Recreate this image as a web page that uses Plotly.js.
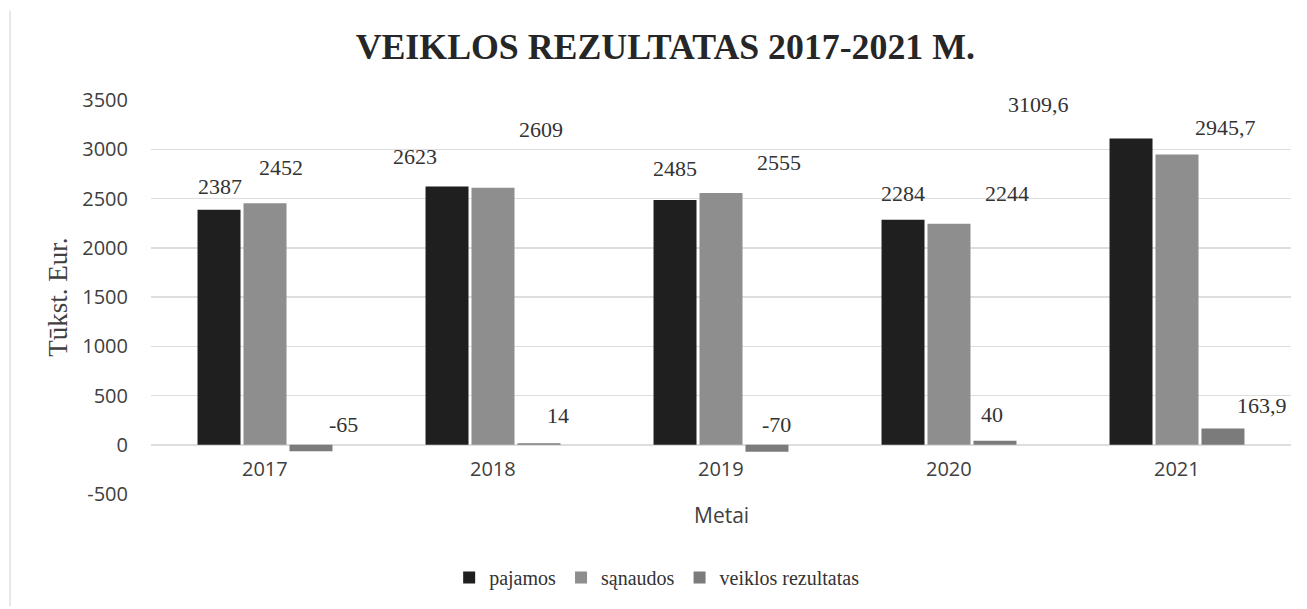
<!DOCTYPE html>
<html>
<head>
<meta charset="utf-8">
<script src="https://cdn.plot.ly/plotly-3.0.1.min.js"></script>
<style>
  html, body { margin: 0; padding: 0; background: #fff; }
  #chart { width: 1307px; height: 609px; }
</style>
</head>
<body>
<div id="chart"></div>
<script>
// ---- data ----
const years = ['2017', '2018', '2019', '2020', '2021'];
const pajamos = [2387, 2623, 2485, 2284, 3109.6];
const sanaudos = [2452, 2609, 2555, 2244, 2945.7];
const rezultatas = [-65, 14, -70, 40, 163.9];
const seriesNames = ['pajamos', 'sąnaudos', 'veiklos rezultatas'];
const yTickVals = [-500, 0, 500, 1000, 1500, 2000, 2500, 3000, 3500];
const yTickText = ['-500', '0', '500', '1000', '1500', '2000', '2500', '3000', '3500'];

// ---- styling / label nudges (pixels) ----
const colors = ['#1f1f1f', '#8e8e8e', '#7b7b7b'];
const barOffsetPx = [-46, 0, 46];
const labelDx = [
  [1, -32, 0, 0, -93],
  [16, 48, 58, 58, 48],
  [32, 19, 9, -3, 39]
];
const labelDy = [
  [23, 30, 31, 26, 34],
  [36, 58, 31, 30, 27],
  [27, 28, 27, 26, 23]
];

const allSeries = [pajamos, sanaudos, rezultatas];
const fmt = v => String(v).replace('.', ',');
const sansFont = 'Open Sans, Liberation Sans, sans-serif';
const serifFont = 'Liberation Serif, Times New Roman, serif';

const traces = allSeries.map((vals, s) => ({
  type: 'bar',
  name: seriesNames[s],
  x: years,
  y: vals,
  marker: { color: colors[s], line: { width: 0 } },
  hoverinfo: 'x+y'
}));

const annotations = [];
allSeries.forEach((vals, s) => {
  vals.forEach((v, i) => {
    annotations.push({
      x: i, y: v, xref: 'x', yref: 'y',
      text: fmt(v), showarrow: false,
      xanchor: 'center', yanchor: 'middle',
      xshift: barOffsetPx[s] + labelDx[s][i],
      yshift: labelDy[s][i],
      font: { family: serifFont, size: 22, color: '#333333' }
    });
  });
});
// category labels sit just under the zero line
years.forEach((yr, i) => {
  annotations.push({
    x: i, y: 0, xref: 'x', yref: 'y',
    text: yr, showarrow: false, xanchor: 'center', yanchor: 'middle',
    yshift: -24,
    font: { family: sansFont, size: 20, color: '#404040' }
  });
});
annotations.push({
  text: 'Metai', xref: 'paper', yref: 'paper', x: 0.5, y: -0.0525,
  xanchor: 'center', yanchor: 'middle', showarrow: false,
  font: { family: sansFont, size: 21, color: '#404040' }
});

const layout = {
  width: 1307, height: 609,
  paper_bgcolor: '#ffffff', plot_bgcolor: '#ffffff',
  margin: { l: 151, r: 16, t: 100, b: 113, pad: 0 },
  title: {
    text: '<b>VEIKLOS REZULTATAS 2017-2021 M.</b>',
    xref: 'container', yref: 'container',
    x: 0.509, y: 0.923, xanchor: 'center', yanchor: 'middle',
    font: { family: serifFont, size: 35.8, color: '#262626' }
  },
  barmode: 'group',
  bargap: 0.395,
  bargroupgap: 0.065,
  xaxis: {
    type: 'category', range: [-0.5, 4.5], autorange: false,
    showgrid: false, showline: false, zeroline: false,
    ticks: '', showticklabels: false
  },
  yaxis: {
    range: [-500, 3500], autorange: false,
    tickmode: 'array', tickvals: yTickVals, ticktext: yTickText,
    showgrid: true, gridcolor: '#dedede', gridwidth: 1.5,
    zeroline: true, zerolinecolor: '#dedede', zerolinewidth: 1.5,
    showline: false, ticks: '', ticklabelstandoff: 22,
    tickfont: { family: sansFont, size: 20, color: '#404040' },
    title: {
      text: 'Tūkst. Eur.', standoff: 6,
      font: { family: serifFont, size: 27, color: '#404040' }
    }
  },
  showlegend: true,
  legend: {
    orientation: 'h', x: 0.444, y: -0.212, xanchor: 'center', yanchor: 'middle',
    font: { family: serifFont, size: 20, color: '#333333' },
    itemwidth: 30, tracegroupgap: 0, bgcolor: 'rgba(0,0,0,0)'
  },
  annotations: annotations,
  shapes: [{
    type: 'line', xref: 'paper', yref: 'paper',
    x0: -0.1237, x1: -0.1237, y0: 1.227, y1: -0.285,
    line: { color: '#e8e8e8', width: 2 }
  }]
};

Plotly.newPlot('chart', traces, layout, { displayModeBar: false, staticPlot: true });
</script>
</body>
</html>
